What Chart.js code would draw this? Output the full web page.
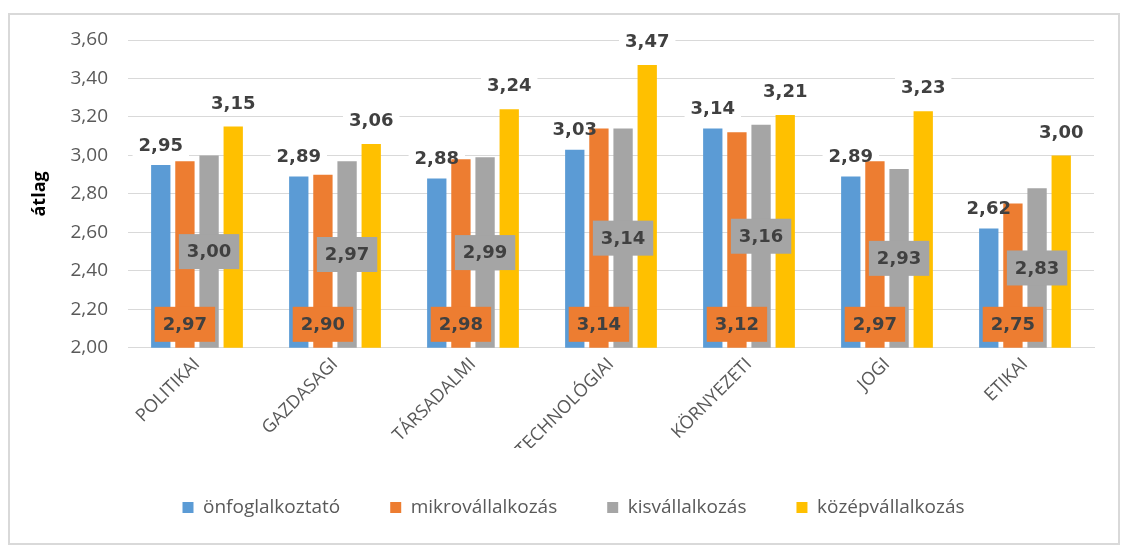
<!DOCTYPE html>
<html>
<head>
<meta charset="utf-8">
<script src="https://cdn.jsdelivr.net/npm/chart.js@4"></script>
<style>
    body { margin: 0; background: #fff; }
    #wrap { position: absolute; left: 8px; top: 13px; width: 1112px; height: 532px; border: 2px solid #d9d9d9; box-sizing: border-box; }
</style>
</head>
<body>
<div id="wrap"><canvas id="chart"></canvas></div>
<script>
const categories = ['POLITIKAI', 'GAZDASAGI', 'TÁRSADALMI', 'TECHNOLÓGIAI', 'KÖRNYEZETI', 'JOGI', 'ETIKAI'];
const onfoglalkoztato = [2.95, 2.89, 2.88, 3.03, 3.14, 2.89, 2.62];
const mikrovallalkozas = [2.97, 2.90, 2.98, 3.14, 3.12, 2.97, 2.75];
const kisvallalkozas = [3.00, 2.97, 2.99, 3.14, 3.16, 2.93, 2.83];
const kozepvallalkozas = [3.15, 3.06, 3.24, 3.47, 3.21, 3.23, 3.00];
const yTicks = [2.00, 2.20, 2.40, 2.60, 2.80, 3.00, 3.20, 3.40, 3.60];

const fmt = v => v.toFixed(2).replace('.', ',');
const LABEL_FONT = 'bold 18px "DejaVu Sans"';

// where each series' label sits: blue & yellow above the bar, orange at the base, grey in the middle
function labelBox(chart, di, i, ctx){
    const yScale = chart.scales.y;
    const ds = chart.data.datasets[di];
    const bar = chart.getDatasetMeta(di).data[i];
    const base = yScale.getPixelForValue(yScale.min);
    const top = yScale.getPixelForValue(ds.data[i]);
    const txt = fmt(ds.data[i]);
    const w = ctx.measureText(txt).width;
    let cy, bg, bw = w + 16, bh = 35;
    if(di == 0 || di == 3){
        cy = top - (di == 0 ? 20 : 23.5); bg = '#fff'; bw = w + 12; bh = 24;
    } else if(di == 1){
        cy = base - 23.5; bg = ds.backgroundColor;
    } else {
        cy = (top + base) / 2; bg = ds.backgroundColor;
    }
    return { txt, x: bar.x, cy, bw, bh, bg };
}

const barLabels = {
    id: 'barLabels',
    // white boxes go under the bars, only hiding the gridlines
    beforeDatasetsDraw(chart){
        const ctx = chart.ctx;
        ctx.save();
        ctx.font = LABEL_FONT;
        [0, 3].forEach(di => {
            chart.data.datasets[di].data.forEach((v, i) => {
                let b = labelBox(chart, di, i, ctx);
                ctx.fillStyle = b.bg;
                ctx.fillRect(b.x - b.bw / 2, b.cy - b.bh / 2, b.bw, b.bh);
            });
        });
        ctx.restore();
    },
    afterDatasetsDraw(chart){
        const ctx = chart.ctx;
        ctx.save();
        ctx.font = LABEL_FONT;
        ctx.textAlign = 'center';
        ctx.textBaseline = 'middle';
        chart.data.datasets.forEach((ds, di) => {
            ds.data.forEach((v, i) => {
                let b = labelBox(chart, di, i, ctx);
                if(di == 1 || di == 2){
                    ctx.fillStyle = b.bg;
                    ctx.fillRect(b.x - b.bw / 2, b.cy - b.bh / 2, b.bw, b.bh);
                }
                ctx.fillStyle = '#404040';
                ctx.fillText(b.txt, b.x, b.cy + 1);
            });
        });
        ctx.restore();
    }
};

new Chart(document.getElementById('chart'), {
    type: 'bar',
    data: {
        labels: categories,
        datasets: [
            { label: 'önfoglalkoztató', data: onfoglalkoztato, backgroundColor: '#5b9bd5' },
            { label: 'mikrovállalkozás', data: mikrovallalkozas, backgroundColor: '#ed7d31' },
            { label: 'kisvállalkozás', data: kisvallalkozas, backgroundColor: '#a5a5a5' },
            { label: 'középvállalkozás', data: kozepvallalkozas, backgroundColor: '#ffc000' }
        ]
    },
    options: {
        responsive: true,
        maintainAspectRatio: false,
        animation: false,
        layout: { padding: { left: 19, right: 0, top: 0, bottom: 16 } },
        datasets: { bar: { categoryPercentage: 0.7, barPercentage: 0.8 } },
        plugins: {
            legend: {
                position: 'bottom',
                labels: {
                    boxWidth: 11, boxHeight: 11, padding: 50, color: '#595959',
                    font: { family: '"Open Sans"', size: 19 }
                }
            },
            tooltip: { enabled: false }
        },
        scales: {
            x: {
                grid: { display: false },
                border: { color: '#d9d9d9' },
                afterFit: axis => { axis.height -= 11; axis.paddingRight = 24; },
                ticks: {
                    color: '#595959', minRotation: 45, maxRotation: 45, padding: -2,
                    font: { family: '"Open Sans"', size: 18 }
                }
            },
            y: {
                min: 2, max: 3.6,
                afterBuildTicks: axis => { axis.ticks = yTicks.map(v => ({ value: v })); },
                afterFit: axis => { axis.width = 99; axis.paddingTop = 25; },
                grid: { color: '#d9d9d9', drawTicks: false },
                border: { display: false },
                title: {
                    display: true, text: 'átlag', color: '#000', padding: { top: 0, bottom: 0 },
                    font: { family: '"Open Sans"', size: 18, weight: 'bold' }
                },
                ticks: {
                    color: '#595959', padding: 20,
                    font: { family: '"Open Sans"', size: 19 },
                    callback: v => fmt(v)
                }
            }
        }
    },
    plugins: [barLabels]
});
</script>
</body>
</html>
